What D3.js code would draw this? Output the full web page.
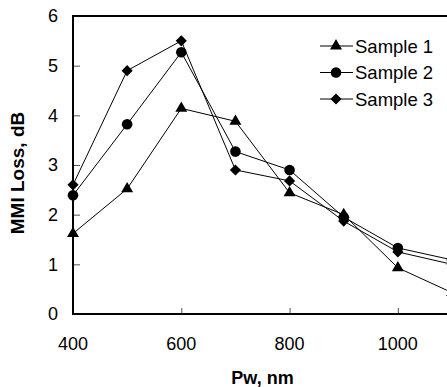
<!DOCTYPE html>
<html>
<head>
<meta charset="utf-8">
<script src="https://cdn.jsdelivr.net/npm/d3@7"></script>
<style>
  html, body { margin: 0; padding: 0; background: #fff; overflow: hidden; }
  svg { display: block; font-family: Arial, "Liberation Sans", sans-serif; }
</style>
</head>
<body>
<svg id="chart" width="447" height="387"></svg>
<script>
// chart data
const pw = [400, 500, 600, 700, 800, 900, 1000, 1100]
const sample1 = [1.62, 2.52, 4.14, 3.88, 2.44, 2.0, 0.93, 0.43]
const sample2 = [2.39, 3.82, 5.27, 3.27, 2.9, 1.95, 1.33, 1.09]
const sample3 = [2.6, 4.9, 5.5, 2.9, 2.68, 1.87, 1.25, 1.0]
const seriesNames = ["Sample 1", "Sample 2", "Sample 3"]
const xTicks = [400, 600, 800, 1000]
const yTicks = [0, 1, 2, 3, 4, 5, 6]

// diamond = square turned 45 degrees
const series = [
    { name: seriesNames[0], values: sample1, shape: d3.symbolTriangle, size: 62, rot: 0 },
    { name: seriesNames[1], values: sample2, shape: d3.symbolCircle, size: 88, rot: 0 },
    { name: seriesNames[2], values: sample3, shape: d3.symbolSquare, size: 62, rot: 45 }
]

const svg = d3.select("#chart")

const x = d3.scaleLinear().domain([400, 1100]).range([73, 452])
const y = d3.scaleLinear().domain([0, 6]).range([314, 16])

// ---------------------------------------------------------------
// inner ticks
const yAxis = d3.axisRight(y).tickValues(yTicks.slice(1, 6)).tickSize(7).tickFormat("")
svg.append("g")
    .attr("transform", `translate(${x(400)},0)`)
    .call(yAxis)
    .call(g => g.select(".domain").remove())
    .call(g => g.selectAll("line").attr("stroke", "#555").attr("stroke-width", 1))

const xAxis = d3.axisTop(x).tickValues(xTicks.slice(1)).tickSize(6).tickFormat("")
svg.append("g")
    .attr("transform", `translate(0,${y(0)})`)
    .call(xAxis)
    .call(g => g.select(".domain").remove())
    .call(g => g.selectAll("line").attr("stroke", "#555").attr("stroke-width", 1))

// frame lines
svg.append("line")
    .attr("x1", x(400)).attr("x2", x(1100) + 2)
    .attr("y1", y(0)).attr("y2", y(0))
    .attr("stroke", "#000").attr("stroke-width", 2)
svg.append("line")
    .attr("x1", x(400)).attr("x2", x(1100) + 2)
    .attr("y1", y(6)).attr("y2", y(6))
    .attr("stroke", "#000").attr("stroke-width", 2)
svg.append("line")
    .attr("x1", x(400)).attr("x2", x(400))
    .attr("y1", y(6) - 1).attr("y2", y(0) + 1)
    .attr("stroke", "#000").attr("stroke-width", 2)

// tick labels
svg.append("g").selectAll("text")
    .data(yTicks)
    .enter()
    .append("text")
        .attr("x", 58)
        .attr("y", d => y(d))
        .attr("dy", "0.36em")
        .attr("text-anchor", "end")
        .attr("font-size", "18px")
        .text(d => d)

svg.append("g").selectAll("text")
    .data(xTicks)
    .enter()
    .append("text")
        .attr("x", d => x(d))
        .attr("y", 350)
        .attr("text-anchor", "middle")
        .attr("font-size", "18px")
        .text(d => d)

// axis titles
svg.append("text")
    .attr("x", (x(400) + x(1100)) / 2)
    .attr("y", 384)
    .attr("text-anchor", "middle")
    .attr("font-size", "18px")
    .attr("font-weight", "bold")
    .text("Pw, nm")

svg.append("text")
    .attr("transform", `translate(24,173) rotate(-90)`)
    .attr("text-anchor", "middle")
    .attr("font-size", "19px")
    .attr("font-weight", "bold")
    .text("MMI Loss, dB")

// ---------------------------------------------------------------
// lines + markers
const line = d3.line().x((d, i) => x(pw[i])).y(d => y(d))

series.forEach(s => {
    svg.append("path")
        .attr("d", line(s.values))
        .attr("fill", "none")
        .attr("stroke", "#000")
        .attr("stroke-width", 1)

    svg.append("g").selectAll("path")
        .data(s.values)
        .enter()
        .append("path")
            .attr("transform", (d, i) => `translate(${x(pw[i])},${y(d)}) rotate(${s.rot})`)
            .attr("d", d3.symbol().type(s.shape).size(s.size))
            .attr("fill", "#000")
})

// legend
const legend = svg.append("g")
    .selectAll("g")
    .data(series)
    .enter()
    .append("g")
        .attr("transform", (d, i) => `translate(320,${46 + i * 26.5})`)

legend.append("line")
    .attr("x1", 0).attr("x2", 33)
    .attr("stroke", "#000").attr("stroke-width", 1)
legend.append("path")
    .attr("transform", d => `translate(16,0) rotate(${d.rot})`)
    .attr("d", d => d3.symbol().type(d.shape).size(d.size)())
    .attr("fill", "#000")
legend.append("text")
    .attr("x", 35)
    .attr("dy", "0.36em")
    .attr("font-size", "18.5px")
    .text(d => d.name)
</script>
</body>
</html>
